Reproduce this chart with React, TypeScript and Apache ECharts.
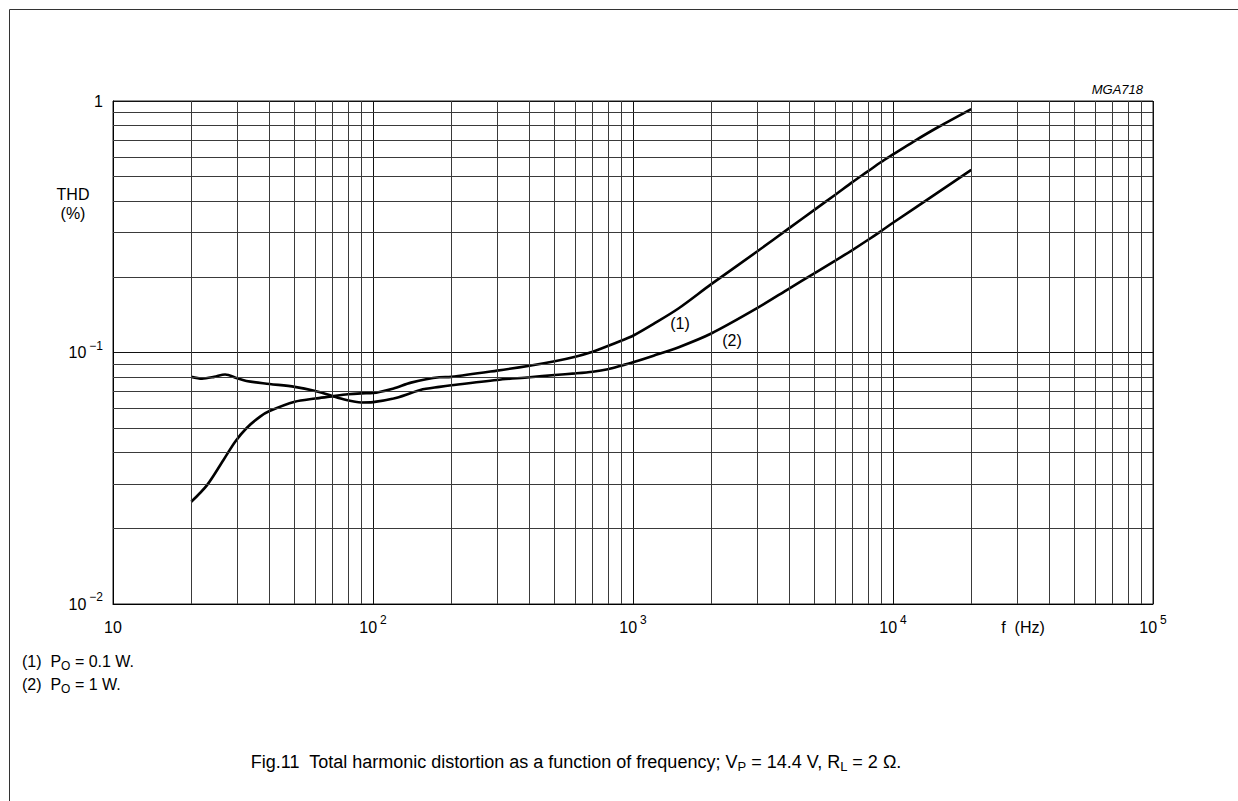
import React, { useEffect, useRef } from "react";
import * as echarts from "echarts";

const FONT = '"Liberation Sans", Arial, Helvetica, sans-serif';

// Curve (1): PO = 0.1 W
const curve1Freq = [20, 23, 26.6, 29.5, 32.6, 36.8, 40, 50, 60, 68, 80, 90, 100, 120, 140, 180, 200, 300, 400, 500, 600, 700, 800, 900, 1000, 1200, 1500, 2000, 3000, 4000, 5000, 6000, 7000, 8000, 9000, 10000, 12000, 15000, 20000];
const curve1Thd = [0.0255, 0.0297, 0.0374, 0.0442, 0.05, 0.0556, 0.0585, 0.0637, 0.0656, 0.0667, 0.0682, 0.0688, 0.069, 0.072, 0.0759, 0.0797, 0.08, 0.0847, 0.0886, 0.0923, 0.0962, 0.1007, 0.1061, 0.1114, 0.1166, 0.13, 0.15, 0.187, 0.252, 0.313, 0.37, 0.424, 0.477, 0.525, 0.572, 0.613, 0.69, 0.79, 0.929];

// Curve (2): PO = 1 W
const curve2Freq = [20, 22, 24.5, 27, 30, 32.6, 40, 50, 60, 68, 79, 90, 100, 120, 140, 152, 180, 200, 300, 400, 500, 600, 700, 800, 900, 1000, 1200, 1500, 2000, 3000, 4000, 5000, 6000, 7000, 8000, 9000, 10000, 15000, 20000];
const curve2Thd = [0.08, 0.0787, 0.08, 0.0818, 0.079, 0.077, 0.075, 0.073, 0.0703, 0.0677, 0.0647, 0.0633, 0.0635, 0.0656, 0.069, 0.071, 0.073, 0.0741, 0.0778, 0.0797, 0.0814, 0.0826, 0.0839, 0.0858, 0.0886, 0.0914, 0.0971, 0.105, 0.119, 0.15, 0.18, 0.207, 0.232, 0.256, 0.28, 0.304, 0.328, 0.435, 0.532];

// Minor grid lines
const xMinorGrid = [20, 30, 40, 50, 60, 70, 80, 90, 200, 300, 400, 500, 600, 700, 800, 900, 2000, 3000, 4000, 5000, 6000, 7000, 8000, 9000, 20000, 30000, 40000, 50000, 60000, 70000, 80000, 90000];
const yMinorGrid = [0.02, 0.03, 0.04, 0.05, 0.06, 0.07, 0.08, 0.09, 0.2, 0.3, 0.4, 0.5, 0.6, 0.7, 0.8, 0.9];

const xMin = 10;
const xMax = 100000;
const yMin = 0.01;
const yMax = 1;

// Curve labels (position in data space)
const label1 = { text: "(1)", f: 1517, v: 0.131 };
const label2 = { text: "(2)", f: 2404, v: 0.1121 };

const zip = (xs: number[], ys: number[]) => xs.map((x, i) => [x, ys[i]]);

const tickRich = {
  b: { fontSize: 16, lineHeight: 26, fontFamily: FONT, color: "#000", verticalAlign: "middle" },
  s: { fontSize: 12, lineHeight: 12, fontFamily: FONT, color: "#000", padding: [0, 0, 14, 3], verticalAlign: "middle" },
};

const subRich = (base: number, sub: number, drop: number) => ({
  b: { fontSize: base, lineHeight: base + 6, fontFamily: FONT, color: "#000", verticalAlign: "middle" },
  u: { fontSize: sub, lineHeight: sub, fontFamily: FONT, color: "#000", padding: [drop * 2, 0, 0, 0], verticalAlign: "middle" },
});

export default function App() {
  const ref = useRef<HTMLDivElement>(null);
  useEffect(() => {
    if (!ref.current) return;
    const chart = echarts.init(ref.current, null, { renderer: "svg" });
    const gridColor = "#3a3a3a";
    const option: any = {
      animation: false,
      backgroundColor: "#fff",
      grid: { left: 113, right: 85, top: 101, bottom: 197, show: true, borderColor: "#222", borderWidth: 1 },
      xAxis: {
        type: "log",
        logBase: 10,
        min: xMin,
        max: xMax,
        axisLine: { show: true, lineStyle: { color: "#000", width: 1 } },
        axisTick: { show: false },
        splitLine: { show: true, lineStyle: { color: "#111", width: 1 } },
        axisLabel: {
          margin: 10,
          formatter: (v: number) => {
            const e = Math.round(Math.log10(v));
            return e === 1 ? "{b|10}" : "{b|10}{s|" + e + "}";
          },
          rich: tickRich,
        },
      },
      yAxis: {
        type: "log",
        logBase: 10,
        min: yMin,
        max: yMax,
        axisLine: { show: true, lineStyle: { color: "#000", width: 1 } },
        axisTick: { show: false },
        splitLine: { show: true, lineStyle: { color: "#111", width: 1 } },
        axisLabel: {
          margin: 10,
          formatter: (v: number) => {
            const e = Math.round(Math.log10(v));
            return e === 0 ? "{b|1}" : "{b|10}{s|\u2212" + -e + "}";
          },
          rich: tickRich,
        },
      },
      series: [
        {
          type: "line",
          data: [],
          z: 1,
          silent: true,
          markLine: {
            silent: true,
            symbol: ["none", "none"],
            label: { show: false },
            emphasis: { disabled: true },
            lineStyle: { color: gridColor, width: 1, type: "solid" },
            data: [
              ...xMinorGrid.map((x) => ({ xAxis: x })),
              ...yMinorGrid.map((y) => ({ yAxis: y })),
            ],
          },
        },
        {
          name: "(1)",
          type: "line",
          z: 3,
          smooth: 0.3,
          showSymbol: false,
          symbol: "none",
          lineStyle: { color: "#000", width: 2.6 },
          data: zip(curve1Freq, curve1Thd),
          markPoint: {
            symbol: "circle",
            symbolSize: 0,
            label: { show: true, position: "inside", color: "#000", fontSize: 16, fontFamily: FONT, formatter: label1.text },
            data: [{ coord: [label1.f, label1.v], value: label1.text }],
          },
        },
        {
          name: "(2)",
          type: "line",
          z: 3,
          smooth: 0.3,
          showSymbol: false,
          symbol: "none",
          lineStyle: { color: "#000", width: 2.6 },
          data: zip(curve2Freq, curve2Thd),
          markPoint: {
            symbol: "circle",
            symbolSize: 0,
            label: { show: true, position: "inside", color: "#000", fontSize: 16, fontFamily: FONT, formatter: label2.text },
            data: [{ coord: [label2.f, label2.v], value: label2.text }],
          },
        },
      ],
      graphic: [
        { type: "line", shape: { x1: 9.5, y1: 9.5, x2: 1238, y2: 9.5 }, style: { stroke: "#333", lineWidth: 1 } },
        { type: "line", shape: { x1: 9.5, y1: 9.5, x2: 9.5, y2: 801 }, style: { stroke: "#333", lineWidth: 1 } },
        {
          type: "text", x: 1143, y: 89,
          style: { text: "MGA718", fill: "#000", font: "italic 13px " + FONT, align: "right", verticalAlign: "middle" },
        },
        {
          type: "text", x: 73, y: 204,
          style: { text: "THD\n(%)", fill: "#000", font: "16px " + FONT, lineHeight: 19, align: "center", verticalAlign: "middle" },
        },
        {
          type: "text", x: 1023, y: 627,
          style: { text: "f  (Hz)", fill: "#000", font: "16px " + FONT, align: "center", verticalAlign: "middle" },
        },
        {
          type: "text", x: 22, y: 661,
          style: {
            text: "{b|(1)  P}{u|O}{b| = 0.1 W.}",
            align: "left", verticalAlign: "middle",
            rich: subRich(16, 12, 5),
          },
        },
        {
          type: "text", x: 22, y: 684,
          style: {
            text: "{b|(2)  P}{u|O}{b| = 1 W.}",
            align: "left", verticalAlign: "middle",
            rich: subRich(16, 12, 5),
          },
        },
        {
          type: "text", x: 576, y: 762,
          style: {
            text: "{b|Fig.11  Total harmonic distortion as a function of frequency; V}{u|P}{b| = 14.4 V, R}{u|L}{b| = 2 \u03A9.}",
            align: "center", verticalAlign: "middle",
            rich: subRich(18, 13, 4),
          },
        },
      ],
    };
    chart.setOption(option);
    return () => chart.dispose();
  }, []);
  return (
    <div
      ref={ref}
      style={{ position: "fixed", left: 0, top: 0, width: 1238, height: 801, background: "#fff" }}
    />
  );
}
